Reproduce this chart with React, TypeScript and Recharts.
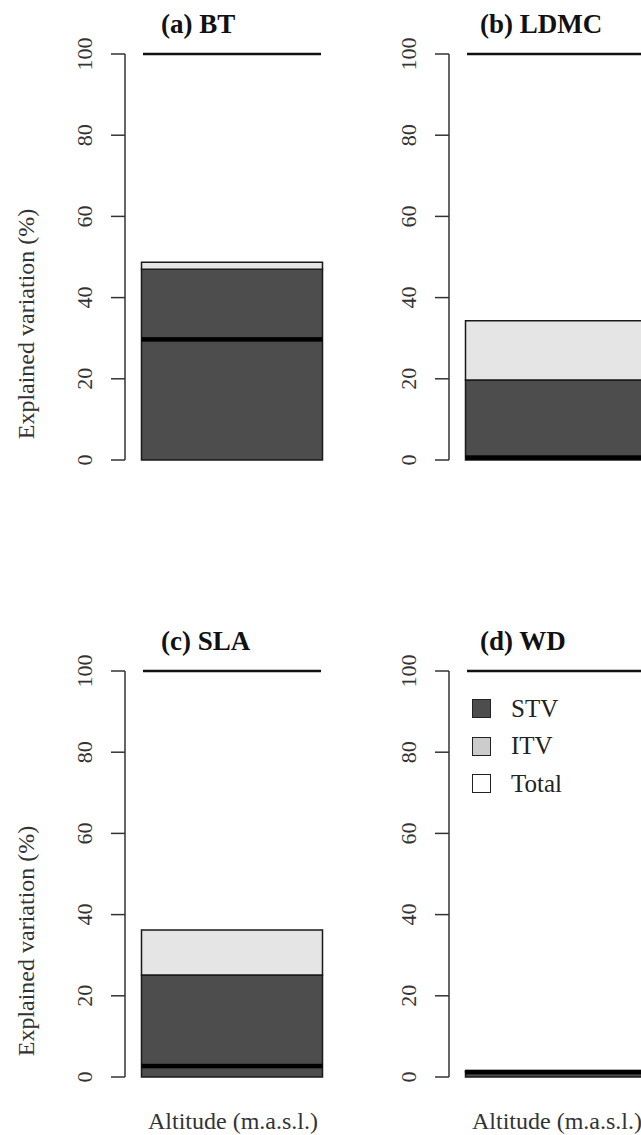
import React from 'react';
import { ComposedChart, Bar, XAxis, YAxis, Legend } from 'recharts';

// values (% explained variation)
const PANEL_TITLES = ['(a) BT', '(b) LDMC', '(c) SLA', '(d) WD'];
const CATEGORY = ['Altitude'];
const STV = [47.0, 19.7, 25.1, 1.3];
const ITV = [1.7, 14.6, 11.1, 0.3];
const TOTAL = [29.7, 0.6, 2.7, 1.2];
const FULL = [100, 100, 100, 100];
const Y_TICKS = [0, 20, 40, 60, 80, 100];
const LEGEND_LABELS = ['STV', 'ITV', 'Total'];
const LEGEND_FILLS = ['#4d4d4d', '#cccccc', '#ffffff'];
const Y_LABEL = 'Explained variation (%)';
const X_LABEL = 'Altitude (m.a.s.l.)';

const SERIF = "'Liberation Serif', 'Times New Roman', serif";
const POS = [
    { left: 0, top: 0 },
    { left: 324, top: 0 },
    { left: 0, top: 617 },
    { left: 324, top: 617 },
];
const TITLE_POS = [
    { x: 161, y: 33 },
    { x: 480, y: 33 },
    { x: 161, y: 650 },
    { x: 480, y: 650 },
];

const RotTick = (props: any) => {
    const { x, y, payload } = props;
    const bx = x - 19;
    return (
        <text x={bx} y={y} transform={`rotate(-90 ${bx} ${y})`} textAnchor="middle" fontFamily={SERIF} fontSize={22} fill="#333">
            {payload.value}
        </text>
    );
};

const TopLine = (p: any) => (
    <line x1={p.x + 1.5} x2={p.x + p.width - 1.5} y1={p.y} y2={p.y} stroke="#111" strokeWidth={2.5} />
);

const ThickLine = (p: any) => <rect x={p.x} y={p.y - 2.25} width={p.width} height={4.5} fill="#000" />;

const LegendBox = () => (
    <div style={{ fontFamily: SERIF, fontSize: 25, color: '#222' }}>
        {LEGEND_LABELS.map((l, i) => (
            <div key={l} style={{ display: 'flex', alignItems: 'center', height: 37.5 }}>
                <span style={{ display: 'inline-block', width: 17, height: 17, border: '1.5px solid #222', background: LEGEND_FILLS[i], marginRight: 20 }} />
                {l}
            </div>
        ))}
    </div>
);

const Panel = ({ i }: { i: number }) => {
    const data = CATEGORY.map((name) => ({ name, stv: STV[i], itv: ITV[i], total: TOTAL[i], full: FULL[i] }));
    const pad = { left: 16.5, right: 0 };
    return (
        <div style={{ position: 'absolute', left: POS[i].left, top: POS[i].top }}>
            <ComposedChart width={330} height={500} data={data} margin={{ top: 54, right: 8, bottom: 40, left: 0 }} barCategoryGap={0} barGap={0}>
                <XAxis xAxisId="full" dataKey="name" hide padding={pad} />
                <XAxis xAxisId="main" dataKey="name" hide padding={pad} />
                <XAxis xAxisId="tot" dataKey="name" hide padding={pad} />
                <YAxis
                    domain={[0, 100]}
                    ticks={Y_TICKS}
                    interval={0}
                    width={125}
                    tickSize={14}
                    tickMargin={0}
                    axisLine={{ stroke: '#333', strokeWidth: 1.5 }}
                    tickLine={{ stroke: '#333', strokeWidth: 1.5 }}
                    tick={<RotTick />}
                />
                <Bar xAxisId="full" dataKey="full" shape={<TopLine />} isAnimationActive={false} />
                <Bar xAxisId="main" dataKey="stv" stackId="v" fill="#4d4d4d" stroke="#1a1a1a" strokeWidth={1.5} isAnimationActive={false} />
                <Bar xAxisId="main" dataKey="itv" stackId="v" fill="#e5e5e5" stroke="#1a1a1a" strokeWidth={1.5} isAnimationActive={false} />
                <Bar xAxisId="tot" dataKey="total" shape={<ThickLine />} isAnimationActive={false} />
                {i === 3 && (
                    <Legend
                        layout="vertical"
                        align="center"
                        verticalAlign="middle"
                        content={<LegendBox />}
                        wrapperStyle={{ left: 148, top: 73, width: 'auto' }}
                    />
                )}
            </ComposedChart>
        </div>
    );
};

export default function App() {
    return (
        <div style={{ position: 'absolute', left: 0, top: 0, width: 641, height: 1135, overflow: 'hidden', background: '#fff' }}>
            {PANEL_TITLES.map((_, i) => (
                <Panel key={i} i={i} />
            ))}
            <svg width={641} height={1135} style={{ position: 'absolute', left: 0, top: 0, pointerEvents: 'none' }}>
                {PANEL_TITLES.map((t, i) => (
                    <text key={t} x={TITLE_POS[i].x} y={TITLE_POS[i].y} fontFamily={SERIF} fontSize={27} fontWeight="bold" fill="#111">
                        {t}
                    </text>
                ))}
                {[324, 941].map((cy) => (
                    <text key={cy} x={34} y={cy} transform={`rotate(-90 34 ${cy})`} textAnchor="middle" fontFamily={SERIF} fontSize={24} fill="#333">
                        {Y_LABEL}
                    </text>
                ))}
                {[148, 472].map((x) => (
                    <text key={x} x={x} y={1129} fontFamily={SERIF} fontSize={24} fill="#333">
                        {X_LABEL}
                    </text>
                ))}
            </svg>
        </div>
    );
}
